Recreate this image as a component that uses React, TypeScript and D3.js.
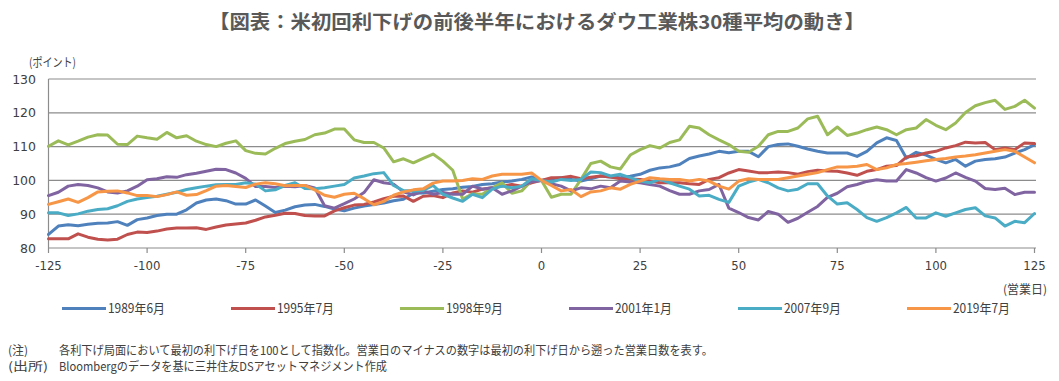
import React from "react";
import * as d3 from "d3";

const days = [
  -125, -122.5, -120, -117.5, -115, -112.5, -110, -107.5, -105, -102.5,
  -100, -97.5, -95, -92.5, -90, -87.5, -85, -82.5, -80, -77.5,
  -75, -72.5, -70, -67.5, -65, -62.5, -60, -57.5, -55, -52.5,
  -50, -47.5, -45, -42.5, -40, -37.5, -35, -32.5, -30, -27.5,
  -25, -22.5, -20, -17.5, -15, -12.5, -10, -7.5, -5, -2.5,
  0, 2.5, 5, 7.5, 10, 12.5, 15, 17.5, 20, 22.5,
  25, 27.5, 30, 32.5, 35, 37.5, 40, 42.5, 45, 47.5,
  50, 52.5, 55, 57.5, 60, 62.5, 65, 67.5, 70, 72.5,
  75, 77.5, 80, 82.5, 85, 87.5, 90, 92.5, 95, 97.5,
  100, 102.5, 105, 107.5, 110, 112.5, 115, 117.5, 120, 122.5,
  125,
];

const s1989 = [
  84, 86.5, 86.9, 86.6, 87.0, 87.3, 87.4, 87.8, 86.7, 88.4,
  88.9, 89.6, 90, 90, 91.3, 93.3, 94.2, 94.5, 94, 93,
  93, 94.2, 92.4, 90.5, 91.2, 92.2, 92.7, 92.9, 92.3, 91.5,
  91, 91.8, 92.4, 92.9, 93.3, 94, 94.4, 96.2, 96.3, 96.8,
  97.3, 97.5, 98, 98.2, 98.8, 99, 99.5, 99.8, 100.3, 101,
  100, 100.5, 100.8, 100.3, 99.8, 100.5, 101.3, 101, 100.8, 101.2,
  101.8, 103, 103.7, 104, 104.7, 106.5, 107.2, 107.8, 108.6, 108.2,
  108.6, 108.6, 107, 110, 110.6, 110.8, 110.1, 109.3, 108.6, 108.1,
  108.1, 108.1, 107.1, 108.6, 111.1, 112.6, 111.8, 106.6, 108.3, 107.5,
  106.2, 105.2, 106.2, 104.2, 105.7, 106.2, 106.4, 106.9, 108.1, 109.1,
  110.6,
];
const s1995 = [
  82.7, 82.7, 82.7, 84.2, 83.2, 82.6, 82.4, 82.6, 84, 84.7,
  84.6, 85, 85.6, 85.9, 85.9, 86, 85.5, 86.2, 86.8, 87.1,
  87.4, 88.2, 89.2, 89.7, 90.3, 90.2, 89.6, 89.5, 89.5, 91,
  91.9, 92.7, 92.9, 93.6, 94.6, 95.3, 95.4, 93.8, 95.3, 95.5,
  94.9, 96.3, 96.9, 96.5, 97.4, 97.8, 98.3, 98.8, 98.3, 99.3,
  100, 100.8, 100.8, 101.2, 100.5, 100.9, 101.3, 101, 100.5, 100.4,
  100.3, 99.8, 99.3, 99.3, 99.3, 99, 98.8, 100.3, 100.8, 102.2,
  103.2, 102.8, 102.3, 102.3, 102.5, 102.3, 101.8, 102.6, 103, 102.8,
  102.7, 102.2, 101.5, 102.7, 103.2, 104.2, 104.4, 106.9, 107.3, 108.1,
  108.6, 109.6, 110.3, 111.3, 111.1, 111.2, 109.1, 109.6, 109.1, 111.1,
  110.9,
];
const s1998 = [
  110.1, 111.7, 110.5, 111.6, 112.8, 113.5, 113.4, 110.7, 110.6, 113.1,
  112.6, 112.2, 114.2, 112.6, 113.2, 111.6, 110.6, 110, 111, 111.7,
  108.8, 108, 107.8, 109.5, 110.9, 111.6, 112.1, 113.5, 114, 115.2,
  115.2, 112, 111.2, 111.2, 109.6, 105.5, 106.4, 105.2, 106.5, 107.8,
  105.7, 103, 94.5, 96, 95.9, 97.8, 99.3, 96.2, 96.9, 100,
  100, 95, 95.9, 95.9, 100.3, 105, 105.7, 104, 103.4, 107.5,
  109.1, 110.3, 109.6, 111.2, 112, 116, 115.5, 113.5, 112, 110.6,
  108.6, 108.3, 110.1, 113.5, 114.5, 114.5, 115.5, 118.2, 119, 113.5,
  115.8, 113.3, 114, 115, 115.8, 115, 113.5, 115, 115.5, 118,
  116.3, 115, 117, 120.1, 122.1, 123, 123.7, 121, 121.9, 123.7,
  121.4,
];
const s2001 = [
  95.5, 96.5, 98.3, 98.8, 98.5, 97.8, 96.6, 96.3, 96.9, 98.3,
  100.2, 100.5, 101.1, 100.9, 101.7, 102.1, 102.7, 103.3, 103.2, 102.2,
  100.6, 98.2, 98.2, 97.9, 98.3, 98.1, 98.5, 97.8, 92.5, 91.8,
  93.1, 94.5, 96.4, 100.2, 99.3, 98.9, 96.6, 95.7, 96.9, 95.9,
  96.4, 95.9, 95.9, 98.3, 97.4, 97.8, 95.9, 96.9, 98.3, 99.6,
  100, 99, 98.3, 96.9, 97.8, 97.5, 98.3, 97.8, 99.8, 99.5,
  99.3, 98.8, 98.3, 97, 95.9, 95.9, 96.9, 97.3, 98.8, 91.8,
  90.5, 89, 88.3, 90.8, 90, 87.6, 88.8, 90.6, 92.3, 95,
  96.2, 98.1, 98.8, 99.7, 100.2, 99.8, 99.8, 103.2, 102.2, 100.8,
  99.8, 100.7, 102.2, 100.9, 99.8, 97.6, 97.3, 97.7, 95.8, 96.5,
  96.5,
];
const s2007 = [
  90.4, 90.4, 89.6, 90.1, 90.9, 91.4, 91.6, 92.5, 93.8, 94.5,
  94.9, 95.3, 95.9, 96.5, 97.3, 97.8, 98.3, 98.7, 98.8, 98.8,
  99.3, 98.9, 96.9, 97.2, 98.5, 99.3, 97.6, 97.5, 97.8, 98.3,
  98.8, 100.7, 101.3, 102, 102.3, 98.5, 97, 96.9, 97, 98.5,
  95.9, 94.8, 93.8, 95.9, 94.9, 97.4, 98.3, 97.8, 98.3, 100.5,
  100, 99.5, 100.3, 100, 100.3, 102.5, 102.3, 101.3, 101.8, 100.8,
  99.8, 99.3, 100.3, 99.3, 98.3, 97.4, 95.4, 95.6, 94.4, 93.5,
  98.3, 99.5, 100.3, 99.3, 97.8, 96.9, 97.4, 99, 99, 95.4,
  93, 93.4, 91.4, 89, 87.9, 89, 90.4, 92, 88.9, 88.9,
  90.4, 89.4, 90.4, 91.4, 91.9, 89.5, 88.9, 86.5, 87.9, 87.5,
  90.2,
];
const s2019 = [
  92.9, 93.7, 94.5, 93.5, 94.9, 96.6, 96.8, 96.9, 96.3, 95.5,
  95.5, 95.2, 95.8, 96.6, 95.6, 95.8, 97, 98.3, 98.5, 98.2,
  97.9, 98.9, 99.3, 99, 98.4, 98.5, 98.5, 97.2, 95.6, 95,
  95.9, 96.2, 94.6, 92.8, 93.8, 95.6, 96.6, 97.2, 97.5, 99.2,
  99.8, 99.8, 100, 100.5, 100.3, 101.3, 101.8, 101.8, 101.8, 102.2,
  100, 98.5, 96.9, 97.3, 95.2, 96.6, 96.9, 97.8, 97.4, 98.8,
  99.8, 100.8, 100.5, 100.3, 100.3, 99.8, 100.3, 99.8, 98.3, 97.4,
  99.8, 100.5, 100.3, 100.3, 100.3, 100.8, 101.3, 101.8, 102.3, 103.2,
  104, 104, 104.2, 104.7, 103.2, 103.7, 104.7, 105, 105.4, 105.8,
  106.2, 106.5, 106.9, 107.2, 107.6, 108.1, 108.6, 109.1, 108.6, 106.9,
  105.2,
];

const seriesNames = ["1989年6月", "1995年7月", "1998年9月", "2001年1月", "2007年9月", "2019年7月"];
const seriesValues = [s1989, s1995, s1998, s2001, s2007, s2019];
const seriesColors = ["#4F81BD", "#C0504D", "#9BBB59", "#8064A2", "#4BACC6", "#F79646"];

const xTicks = [-125, -100, -75, -50, -25, 0, 25, 50, 75, 100, 125];
const yTicks = [80, 90, 100, 110, 120, 130];

const title = "【図表：米初回利下げの前後半年におけるダウ工業株30種平均の動き】";
const yUnit = "(ポイント)";
const xUnit = "(営業日)";
const note1Label = "(注)";
const note1 = "各利下げ局面において最初の利下げ日を100として指数化。営業日のマイナスの数字は最初の利下げ日から遡った営業日数を表す。";
const note2Label = "(出所)";
const note2 = "Bloombergのデータを基に三井住友DSアセットマネジメント作成";

const JP = "'Noto Sans CJK JP', 'Noto Sans', sans-serif";

export default function App() {
  const x = d3.scaleLinear().domain([-125, 125]).range([48.5, 1034.5]);
  const y = d3.scaleLinear().domain([80, 130]).range([248, 79]);
  const line = d3
    .line<number>()
    .x((_, i) => x(days[i]))
    .y((v) => y(v));

  return (
    <svg
      width={1059}
      height={381}
      style={{ position: "absolute", left: 0, top: 0, background: "#fff" }}
    >
      <rect x={0} y={0} width={1059} height={381} fill="#fff" />
      <text
        x={537}
        y={29}
        textAnchor="middle"
        fontFamily={JP}
        fontWeight="bold"
        fontSize={19}
        fill="#595959"
        textLength={656}
        lengthAdjust="spacingAndGlyphs"
      >
        {title}
      </text>
      <text x={29} y={67} fontFamily={JP} fontSize={12} fill="#404040" textLength={47} lengthAdjust="spacingAndGlyphs">
        {yUnit}
      </text>
      {yTicks.map((t) => (
        <g key={t}>
          <line x1={48.5} x2={1036} y1={y(t)} y2={y(t)} stroke="#8c8c8c" strokeWidth={1.2} />
          <text
            x={36}
            y={y(t) + 4.5}
            textAnchor="end"
            fontFamily="'DejaVu Sans', Verdana, sans-serif"
            fontSize={12.5}
            fill="#404040"
          >
            {t}
          </text>
        </g>
      ))}
      <line x1={48.5} x2={48.5} y1={y(130)} y2={y(80)} stroke="#8c8c8c" strokeWidth={1.2} />
      {xTicks.map((t) => (
        <g key={t}>
          <line x1={x(t)} x2={x(t)} y1={y(80)} y2={y(80) + 5} stroke="#8c8c8c" strokeWidth={1.2} />
          <text
            x={x(t)}
            y={270}
            textAnchor="middle"
            fontFamily="'Liberation Sans Narrow', 'DejaVu Sans Condensed', sans-serif"
            fontSize={13}
            fill="#404040"
          >
            {t}
          </text>
        </g>
      ))}
      {seriesValues.map((vals, i) => (
        <path
          key={seriesNames[i]}
          d={line(vals) || ""}
          fill="none"
          stroke={seriesColors[i]}
          strokeWidth={3}
          strokeLinejoin="round"
          strokeLinecap="round"
        />
      ))}
      <text x={1047} y={294} textAnchor="end" fontFamily={JP} fontSize={12} fill="#404040" textLength={44} lengthAdjust="spacingAndGlyphs">
        {xUnit}
      </text>
      {seriesNames.map((n, i) => {
        const lx = 62 + i * 169;
        return (
          <g key={n}>
            <line x1={lx} x2={lx + 44} y1={308.5} y2={308.5} stroke={seriesColors[i]} strokeWidth={3} />
            <text x={lx + 46} y={313} fontFamily={JP} fontSize={13} fill="#404040" textLength={57} lengthAdjust="spacingAndGlyphs">
              {n}
            </text>
          </g>
        );
      })}
      <text x={8} y={355} fontFamily={JP} fontSize={12} fill="#404040">
        {note1Label}
      </text>
      <text x={59} y={355} fontFamily={JP} fontSize={12} fill="#404040" textLength={654} lengthAdjust="spacingAndGlyphs">
        {note1}
      </text>
      <text x={8} y={371} fontFamily={JP} fontSize={12} fill="#404040" textLength={40} lengthAdjust="spacingAndGlyphs">
        {note2Label}
      </text>
      <text x={59} y={371} fontFamily={JP} fontSize={12} fill="#404040" textLength={328} lengthAdjust="spacingAndGlyphs">
        {note2}
      </text>
    </svg>
  );
}
